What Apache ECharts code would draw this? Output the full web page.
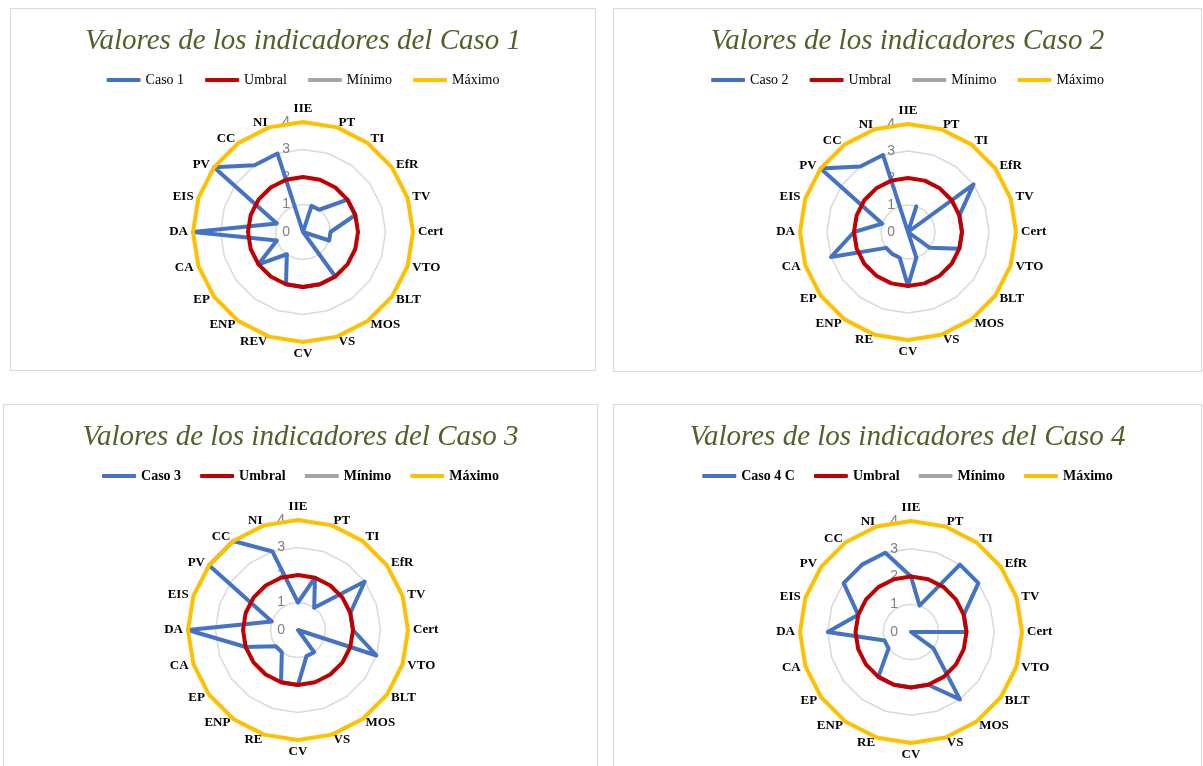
<!DOCTYPE html>
<html>
<head>
<meta charset="utf-8">
<script src="https://cdn.jsdelivr.net/npm/echarts@6/dist/echarts.min.js"></script>
<style>
  html, body { margin: 0; padding: 0; background: #fff; width: 1203px; height: 766px; overflow: hidden; }
  .panel { position: absolute; box-sizing: border-box; border: 1px solid #d9d9d9; background: #fff; }
</style>
</head>
<body>
<div id="p1" class="panel" style="left:10px;top:8px;width:586px;height:363px"></div>
<div id="p2" class="panel" style="left:613px;top:8px;width:589px;height:364px"></div>
<div id="p3" class="panel" style="left:3px;top:404px;width:595px;height:380px"></div>
<div id="p4" class="panel" style="left:613px;top:404px;width:589px;height:380px"></div>
<script>
// Indicator labels (clockwise from the top)
const indicadoresCaso1 = ['IIE','PT','TI','EfR','TV','Cert','VTO','BLT','MOS','VS','CV','REV','ENP','EP','CA','DA','EIS','PV','CC','NI'];
const indicadores      = ['IIE','PT','TI','EfR','TV','Cert','VTO','BLT','MOS','VS','CV','RE','ENP','EP','CA','DA','EIS','PV','CC','NI'];

// Values of each case, same order as the labels
const caso1 = [0, 1, 1, 2, 2, 1, 1, 0, 2, 2, 2, 2, 1, 2, 1, 4, 1, 4, 3, 3];
const caso2 = [0, 1, 0, 3, 2, 2, 2, 1, 0, 1, 2, 1, 1, 1, 3, 2, 1, 4, 3, 3];
const caso3 = [1, 2, 1, 3, 2, 2, 3, 0, 1, 1, 2, 2, 1, 1, 2, 4, 1, 4, 4, 3];
const caso4 = [2, 1, 3, 3, 2, 2, 0, 1, 3, 2, 2, 2, 2, 1, 1, 3, 2, 3, 3, 3];

// Reference levels
const umbral = [2, 2, 2, 2, 2, 2, 2, 2, 2, 2, 2, 2, 2, 2, 2, 2, 2, 2, 2, 2];
const minimo = [0, 0, 0, 0, 0, 0, 0, 0, 0, 0, 0, 0, 0, 0, 0, 0, 0, 0, 0, 0];
const maximo = [4, 4, 4, 4, 4, 4, 4, 4, 4, 4, 4, 4, 4, 4, 4, 4, 4, 4, 4, 4];

// Radial scale ticks
const escalaMin = 0;
const escalaMax = 4;

const COLORS = { caso: '#4472C4', umbral: '#C00000', minimo: '#A5A5A5', maximo: '#FFC000' };

// ECharts lays radar indicators out counter-clockwise, so walk the lists
// as IIE, NI, CC, ... PT to read them clockwise on screen.
function clockwise(list) {
  return list.map((_, i) => list[i === 0 ? 0 : list.length - i]);
}

function drawPanel(id, cfg) {
  const el = document.getElementById(id);
  const chart = echarts.init(el, null, { renderer: 'canvas' });
  const labels = clockwise(cfg.labels);
  const indicator = labels.map((name, i) => {
    const ind = { name: name, min: escalaMin, max: escalaMax };
    if (i === 0) {
      ind.axisLabel = {
        show: true, color: '#7f7f7f', fontSize: 14,
        fontFamily: 'Liberation Sans', margin: 13
      };
    }
    return ind;
  });
  const serie = (name, values, color) => ({
    type: 'radar',
    name: name,
    symbol: 'none',
    silent: true,
    itemStyle: { color: color },
    lineStyle: { color: color, width: 4, cap: 'round', join: 'round' },
    data: [{ name: name, value: clockwise(values) }]
  });
  const legendFont = {
    fontFamily: 'Liberation Serif', fontSize: 14, color: '#000',
    fontWeight: cfg.bold ? 'bold' : 'normal'
  };
  chart.setOption({
    animation: false,
    backgroundColor: '#fff',
    title: {
      text: cfg.title,
      left: 'center',
      top: 13,
      textStyle: {
        fontFamily: 'Liberation Serif', fontStyle: 'italic', fontWeight: 'normal',
        fontSize: 29, color: '#4F6228'
      }
    },
    legend: {
      top: 64,
      left: cfg.legendLeft,
      padding: 0,
      icon: 'roundRect',
      itemWidth: 34,
      itemHeight: 4,
      itemGap: cfg.bold ? 19 : 21,
      textStyle: legendFont,
      data: [cfg.casoName, 'Umbral', 'Mínimo', 'Máximo']
    },
    radar: {
      center: cfg.center,
      radius: cfg.radius,
      startAngle: 90,
      shape: 'polygon',
      splitNumber: 4,
      nameGap: 5,
      indicator: indicator,
      axisName: {
        color: '#000', fontFamily: 'Liberation Serif', fontWeight: 'bold', fontSize: 13
      },
      axisLine: { show: false },
      axisTick: { show: false },
      axisLabel: { show: false },
      splitLine: { lineStyle: { color: '#D9D9D9', width: 1.5 } },
      splitArea: { show: false }
    },
    series: [
      serie(cfg.casoName, cfg.values, COLORS.caso),
      serie('Umbral', umbral, COLORS.umbral),
      serie('Mínimo', minimo, COLORS.minimo),
      serie('Máximo', maximo, COLORS.maximo)
    ]
  });
}

drawPanel('p1', {
  title: 'Valores de los indicadores del Caso 1', casoName: 'Caso 1',
  labels: indicadoresCaso1, values: caso1,
  center: [292, 223], radius: 110, bold: false, legendLeft: 'center'
});
drawPanel('p2', {
  title: 'Valores de los indicadores Caso 2', casoName: 'Caso 2',
  labels: indicadores, values: caso2,
  center: [294, 223], radius: 108, bold: false, legendLeft: 'center'
});
drawPanel('p3', {
  title: 'Valores de los indicadores del Caso 3', casoName: 'Caso 3',
  labels: indicadores, values: caso3,
  center: [294, 225], radius: 110, bold: true, legendLeft: 'center'
});
drawPanel('p4', {
  title: 'Valores de los indicadores del Caso 4', casoName: 'Caso 4 C',
  labels: indicadores, values: caso4,
  center: [297, 227], radius: 111, bold: true, legendLeft: 'center'
});
</script>
</body>
</html>
